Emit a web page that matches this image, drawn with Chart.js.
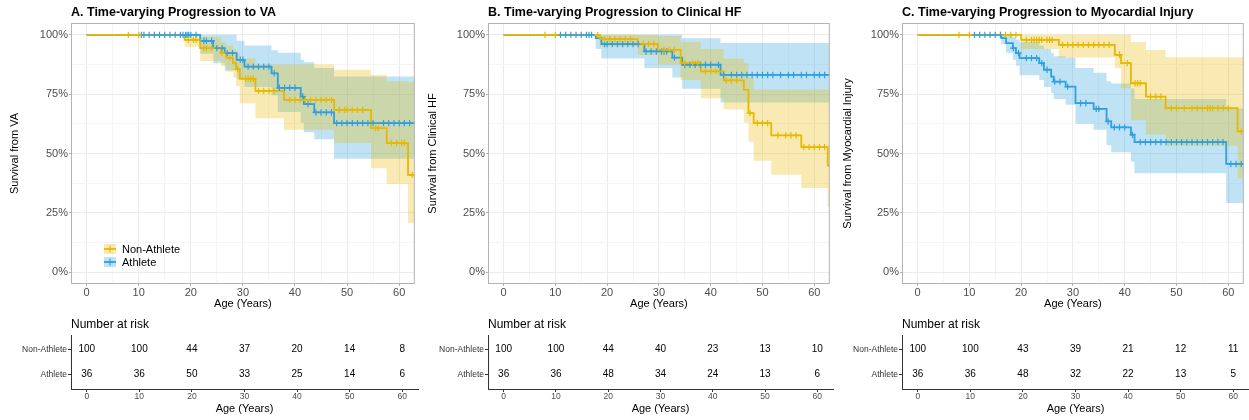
<!DOCTYPE html>
<html><head><meta charset="utf-8">
<script src="https://cdn.jsdelivr.net/npm/chart.js@4/dist/chart.umd.min.js"></script>
<style>
html,body{margin:0;padding:0;background:#fff;width:1249px;height:420px;overflow:hidden;}
.c{position:absolute;}
</style></head><body>
<div class="c" style="left:0px;top:0px;width:420px;height:315px"><canvas id="kmA"></canvas></div>
<div class="c" style="left:422px;top:0px;width:413px;height:315px"><canvas id="kmB"></canvas></div>
<div class="c" style="left:837px;top:0px;width:412px;height:315px"><canvas id="kmC"></canvas></div>
<div class="c" style="left:0px;top:312px;width:420px;height:108px"><canvas id="rtA"></canvas></div>
<div class="c" style="left:422px;top:312px;width:413px;height:108px"><canvas id="rtB"></canvas></div>
<div class="c" style="left:837px;top:312px;width:412px;height:108px"><canvas id="rtC"></canvas></div>
<script>
// ---------- tick labels / categories ----------
const xTicks = [0,5,10,15,20,25,30,35,40,45,50,55,60];
const yTicks = [0,12.5,25,37.5,50,62.5,75,87.5,100];
const riskTimes = [0,10,20,30,40,50,60];
const groups = ['Non-Athlete','Athlete'];

// ---------- Panel A: VA ----------
const aNonT = [0,18.8,21.8,25.8,26.8,28.1,28.7,29.4,32.4,37.9,47.5,54.6,57.6,61.7,63];
const aNonS = [100,97.9,94.4,92.4,90.3,88.2,85.6,81.5,76.4,72.6,68.4,60.7,54.4,41.0,41.0];
const aNonL = [100,95,89,87,84.5,82,78.5,71.2,64.9,60,54.4,43.8,37.1,20.7,20.7];
const aNonU = [100,100,99,97,95.5,94,92.5,90,87.5,87.5,85.3,83.1,80.5,80,80];
const aNonC = [8,10,19.5,20.5,21,22.5,23,24,26,27.5,29,30.5,31,31.5,32,33,34,35,36,39,40,41,42,43,44,45,46,47,48.5,49.5,50,51,52,53,55.5,56,58.5,59.5,60.5,61,62.5];
const aAthT = [0,21.8,24.3,26.5,28.8,30.3,35.5,36.7,41.1,41.7,43.7,47.5,63];
const aAthS = [100,97.5,94.4,92.3,89.5,86.6,83.8,77.7,74,70.8,67.3,62.8,62.8];
const aAthL = [100,92,88,85,81.5,78,74.5,67.5,63,59,56,47.8,47.8];
const aAthU = [100,100,100,100,97.5,95.5,93.5,92.5,89.5,88.5,86,82.5,82.5];
const aAthC = [10.5,11,12,13,14,15,16,17,18,18.5,19,19.3,19.6,20,21,22.5,23,24,25,26,27,28,29.5,30,31,32,33,34,35,36,37,38,39,40,41.5,42.5,44,45,46,47,48,49,50,51,52,53,54,55,57,58,59,60,61,62];
const aRiskNon = [100,100,44,37,20,14,8];
const aRiskAth = [36,36,50,33,25,14,6];

// ---------- Panel B: Clinical HF ----------
const bNonT = [0,18.6,25.9,29.8,34.2,38.1,42.5,46.4,47.3,48.3,51.7,57.5,62.6,63];
const bNonS = [100,98.2,96.2,93.7,88.1,84.6,80.8,76.8,67,62.8,57.6,52.7,44.9,44.9];
const bNonL = [100,95,91.5,87.5,81,73.3,68.5,63,55,46.9,41,35.5,27.5,27.5];
const bNonU = [100,100,100,99.5,97,94,90,88,82,77,77,77,77,77];
const bNonC = [8,10,18.2,19.5,20.5,21.5,22.5,23.5,24.5,27,28,29,31,32,33,35,36.5,37.5,39,40,41,43,44,45,47.6,49,50,51,53,54.5,55.5,56.5,58,59,60,61,62];
const bAthT = [0,17.8,18.9,27.2,32.6,34.5,41.9,63];
const bAthS = [100,98.6,96.1,93,90.4,87.4,83.1,83.1];
const bAthL = [100,94,90,86,82,77.3,71.5,71.5];
const bAthU = [100,100,100,100,100,98.6,96.6,96.6];
const bAthC = [11,12,13,14,15,16,16.5,17,19.5,20,21,22,23,24,25,26,27.5,28.5,29.5,30.5,31,31.5,33,35,36,37,38,39,40,41.5,42.5,44,45,46,47,48,49,50,51,52,53.5,55,56,57.5,58.5,60,61,62];
const bRiskNon = [100,100,44,40,23,13,10];
const bRiskAth = [36,36,48,34,24,13,6];

// ---------- Panel C: Myocardial Injury ----------
const cNonT = [0,20,27.3,38.1,39.3,41.2,44.1,47.9,61.8,63];
const cNonS = [100,97.9,95.8,91.6,88.1,79.6,74,69.1,59.3,59.3];
const cNonL = [100,94,90.5,86,77.5,64,58,53.3,39.5,39.5];
const cNonU = [100,100,100,100,100,97,93.6,90.6,90.6,90.6];
const cNonC = [8,10,17,18,19,21,22,22.5,23,23.5,24,25,25.5,26,28,29,30,31,32,33,34,35,36,37,39,40.5,42,42.5,43,45,46,47,49,50,51.5,53,54,55,56,56.5,57,58,59,60,62.5];
const cAthT = [0,16.2,17.1,18.4,19,19.7,23.5,24.4,25.8,26.3,28.6,30.5,34,36.5,37.4,41.2,41.9,59.6,63];
const cAthS = [100,98.6,96.5,94.4,92.3,90.2,88.1,85.3,82.4,80.3,78.2,71.2,68.8,63.5,61,57.9,54.8,45.6,45.6];
const cAthL = [100,96,92.5,89.5,87,83,81,78,75.5,73,70.5,62.5,60,53.5,50.5,46.5,41.7,29.1,29.1];
const cAthU = [100,100,100,99,98,97,95.5,94,92.5,91,90.5,86,84,80.5,79.5,77.4,73,69,69];
const cAthC = [11,12,13,14,15,16,18.5,19.5,21,22,23,24,25,26.5,27.5,29,31.5,32.5,34.5,35,36.8,38,39,40,41.5,43,44,45,46,47,48,49,50,51,52,53,54,55,56,57,58,59,60.5,61.5,62.5];
const cRiskNon = [100,100,43,39,21,12,11];
const cRiskAth = [36,36,48,32,22,13,5];

// ---------- styling ----------
const YEL = '#E7B800', BLU = '#2E9FDF';
const YEL_F = 'rgba(231,184,0,0.3)', BLU_F = 'rgba(46,159,223,0.3)';
const FONT = '"Liberation Sans", Arial, sans-serif';
Chart.defaults.font.family = FONT;
Chart.defaults.animation = false;

function pts(T, V){ return T.map((t,i)=>({x:t, y:V[i]})); }
function stepAt(T, S, t){ let v = S[0]; for(let i=0;i<T.length;i++){ if(T[i] <= t) v = S[i]; } return v; }

function seriesSets(T,S,L,U,C,col,fillCol,label){
  return [
    {label:label, data:pts(T,S), stepped:true, borderColor:col, borderWidth:1.8, pointRadius:0, fill:false, order:1},
    {label:label+' censor', data:C.map(t=>({x:t,y:stepAt(T,S,t)})), showLine:false, pointStyle:'cross', pointRadius:3.2, pointBorderWidth:1.2, borderColor:col, backgroundColor:col, order:0},
    {label:label+' upper', data:pts(T,U), stepped:true, borderWidth:0, borderColor:'rgba(0,0,0,0)', pointRadius:0, fill:'+1', backgroundColor:fillCol, order:5},
    {label:label+' lower', data:pts(T,L), stepped:true, borderWidth:0, borderColor:'rgba(0,0,0,0)', pointRadius:0, fill:false, order:5}
  ];
}

const boxPlugin = {
  id:'box',
  afterDraw(chart){
    const a = chart.chartArea, ctx = chart.ctx;
    ctx.save(); ctx.strokeStyle = '#B3B3B3'; ctx.lineWidth = 1;
    ctx.strokeRect(a.left+0.5, a.top+0.5, a.right-a.left-1, a.bottom-a.top-1);
    const o = chart.options.plugins.panelTitle;
    ctx.fillStyle = '#000'; ctx.font = 'bold 12.5px '+FONT; ctx.textBaseline = 'middle'; ctx.textAlign = 'left';
    ctx.fillText(o.text, a.left, 13);
    if (o.legend) {
      const kx = a.left + 33, rows = [[a.bottom-35, YEL, YEL_F, groups[0]], [a.bottom-22, BLU, BLU_F, groups[1]]];
      ctx.font = '11px '+FONT;
      rows.forEach(([y,c,f,t])=>{
        ctx.fillStyle = f; ctx.fillRect(kx, y-5, 12, 10);
        ctx.strokeStyle = c; ctx.lineWidth = 1.8;
        ctx.beginPath(); ctx.moveTo(kx, y); ctx.lineTo(kx+12, y); ctx.stroke();
        ctx.lineWidth = 1.2; ctx.beginPath(); ctx.moveTo(kx+6, y-3.5); ctx.lineTo(kx+6, y+3.5); ctx.stroke();
        ctx.fillStyle = '#000'; ctx.fillText(t, kx+18, y+0.5);
      });
    }
    ctx.restore();
  }
};

function makeKM(id, cfg){
  const ds = [].concat(
    seriesSets(cfg.nT,cfg.nS,cfg.nL,cfg.nU,cfg.nC,YEL,YEL_F,groups[0]),
    seriesSets(cfg.aT,cfg.aS,cfg.aL,cfg.aU,cfg.aC,BLU,BLU_F,groups[1])
  );
  new Chart(document.getElementById(id), {
    type:'line',
    data:{datasets:ds},
    options:{
      responsive:true, maintainAspectRatio:false,
      layout:{padding:{left:cfg.padL, right:cfg.padR, top:23, bottom:0}},
      plugins:{legend:{display:false}, tooltip:{enabled:false}, panelTitle:{text:cfg.title, legend:cfg.legend}},
      scales:{
        x:{type:'linear', min:-3, max:63,
          afterBuildTicks:s=>{ s.ticks = xTicks.map(v=>({value:v})); },
          afterFit:s=>{ s.height = 31; },
          ticks:{autoSkip:false, maxRotation:0, padding:0, color:'#4D4D4D', font:{size:11},
            callback:v=> v%10===0 ? String(v) : ''},
          grid:{color:c=> (c.tick && c.tick.value%10===0) ? '#EBEBEB' : '#F5F5F5', lineWidth:1,
            tickLength:2, tickColor:c=> (c.tick && c.tick.value%10===0) ? '#B3B3B3' : 'rgba(0,0,0,0)'},
          border:{display:false},
          title:{display:true, text:'Age (Years)', color:'#000', font:{size:11}, padding:{top:0,bottom:4}}
        },
        y:{type:'linear', min:-5, max:105,
          afterBuildTicks:s=>{ s.ticks = yTicks.map(v=>({value:v})); },
          afterFit:s=>{ s.width = cfg.yW; },
          ticks:{autoSkip:false, padding:1, color:'#4D4D4D', font:{size:11},
            callback:v=> v%25===0 ? v+'%' : ''},
          grid:{color:c=> (c.tick && c.tick.value%25===0) ? '#EBEBEB' : '#F5F5F5', lineWidth:1,
            tickLength:2, tickColor:c=> (c.tick && c.tick.value%25===0) ? '#B3B3B3' : 'rgba(0,0,0,0)'},
          border:{display:false},
          title:{display:true, text:cfg.yTitle, color:'#000', font:{size:11}, padding:{top:4,bottom:4}}
        }
      }
    },
    plugins:[boxPlugin]
  });
}

const riskPlugin = {
  id:'risk',
  afterDatasetsDraw(chart){
    const ctx = chart.ctx, a = chart.chartArea;
    ctx.save();
    ctx.fillStyle = '#000'; ctx.font = '12px '+FONT; ctx.textAlign='left'; ctx.textBaseline='middle';
    ctx.fillText('Number at risk', a.left, a.top-10);
    ctx.font = '10px '+FONT; ctx.textAlign='center';
    chart.data.datasets.forEach((d,di)=>{
      const meta = chart.getDatasetMeta(di);
      meta.data.forEach((p,i)=>{ ctx.fillText(String(d.counts[i]), p.x, p.y); });
    });
    ctx.restore();
  }
};

function makeRisk(id, cfg){
  new Chart(document.getElementById(id), {
    type:'scatter',
    data:{datasets:[
      {label:groups[0], counts:cfg.non, data:riskTimes.map(t=>({x:t,y:2})), pointRadius:0},
      {label:groups[1], counts:cfg.ath, data:riskTimes.map(t=>({x:t,y:1})), pointRadius:0}
    ]},
    options:{
      responsive:true, maintainAspectRatio:false,
      layout:{padding:{left:0, right:cfg.padR, top:23, bottom:0}},
      plugins:{legend:{display:false}, tooltip:{enabled:false}},
      scales:{
        x:{type:'linear', min:-3, max:63,
          afterBuildTicks:s=>{ s.ticks = riskTimes.map(v=>({value:v})); },
          afterFit:s=>{ s.height = 31; },
          ticks:{autoSkip:false, maxRotation:0, padding:0, color:'#4D4D4D', font:{size:8.5}, callback:v=>String(v)},
          grid:{drawOnChartArea:false, tickLength:3, tickColor:'#333'},
          border:{display:true, color:'#333', width:1},
          title:{display:true, text:'Age (Years)', color:'#000', font:{size:11}, padding:{top:0,bottom:4}}
        },
        y:{type:'linear', min:0.4, max:2.6,
          afterBuildTicks:s=>{ s.ticks = [1,2].map(v=>({value:v})); },
          afterFit:s=>{ s.width = cfg.yW; },
          ticks:{autoSkip:false, padding:1, color:'#333', font:{size:8.5}, callback:v=> v===2 ? groups[0] : (v===1 ? groups[1] : '')},
          grid:{drawOnChartArea:false, tickLength:3, tickColor:'#333'},
          border:{display:true, color:'#333', width:1}
        }
      }
    },
    plugins:[riskPlugin]
  });
}

makeKM('kmA', {title:'A. Time-varying Progression to VA', yTitle:'Survival from VA', padL:4, padR:2, yW:67, legend:true,
  nT:aNonT,nS:aNonS,nL:aNonL,nU:aNonU,nC:aNonC, aT:aAthT,aS:aAthS,aL:aAthL,aU:aAthU,aC:aAthC});
makeKM('kmB', {title:'B. Time-varying Progression to Clinical HF', yTitle:'Survival from Clinical HF', padL:0, padR:2, yW:66, legend:false,
  nT:bNonT,nS:bNonS,nL:bNonL,nU:bNonU,nC:bNonC, aT:bAthT,aS:bAthS,aL:bAthL,aU:bAthU,aC:bAthC});
makeKM('kmC', {title:'C. Time-varying Progression to Myocardial Injury', yTitle:'Survival from Myocardial Injury', padL:0, padR:0, yW:65, legend:false,
  nT:cNonT,nS:cNonS,nL:cNonL,nU:cNonU,nC:cNonC, aT:cAthT,aS:cAthS,aL:cAthL,aU:cAthU,aC:cAthC});
makeRisk('rtA', {non:aRiskNon, ath:aRiskAth, yW:71, padR:2});
makeRisk('rtB', {non:bRiskNon, ath:bRiskAth, yW:66, padR:2});
makeRisk('rtC', {non:cRiskNon, ath:cRiskAth, yW:65, padR:0});
</script>
</body></html>
